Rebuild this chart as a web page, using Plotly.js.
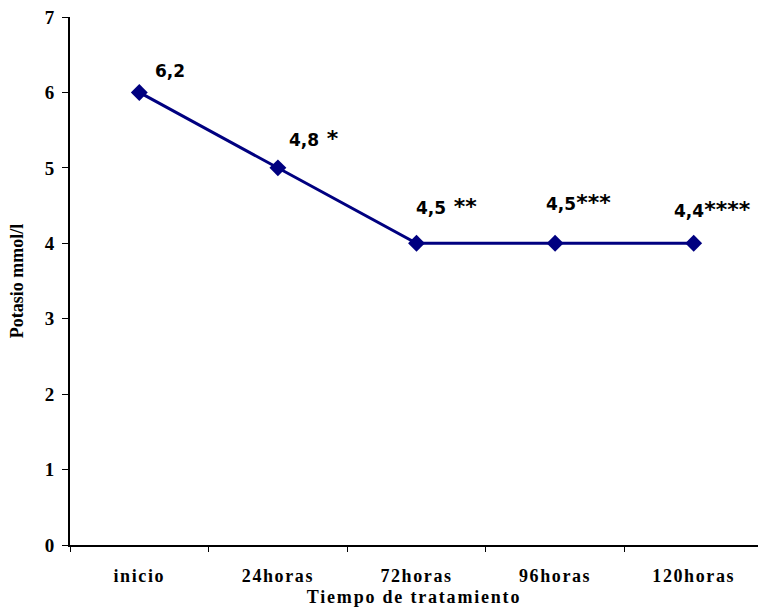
<!DOCTYPE html>
<html><head><meta charset="utf-8">
<script src="https://cdn.plot.ly/plotly-3.0.1.min.js"></script>
<style>
body{margin:0;background:#fff}
#chart .xtick text{letter-spacing:1.6px}
#chart .g-xtitle text{letter-spacing:1.8px}
</style>
</head><body>
<div id="chart" style="width:758px;height:614px"></div>
<script>
const categories = ["inicio", "24horas", "72horas", "96horas", "120horas"];
const potasio = [6, 5, 4, 4, 4];
const labelValues = ["6,2", "4,8", "4,5", "4,5", "4,4"];
const labelMarks = ["", " *", " **", "***", "****"];
const yTicks = [0, 1, 2, 3, 4, 5, 6, 7];

// label placement (style only)
const labelDx = [14, 9, -2, -11, -22];
const labelDy = [21, 29, 37, 41, 34];

const annotations = categories.map((c, i) => ({
  x: c, y: potasio[i], xref: 'x', yref: 'y',
  text: labelValues[i] + (labelMarks[i] ? '<span style="font-size:22px">' + labelMarks[i] + '</span>' : ''),
  showarrow: false,
  xanchor: 'left', yanchor: 'middle',
  xshift: labelDx[i], yshift: labelDy[i],
  font: {family: 'DejaVu Sans', size: 17, color: '#000', weight: 'bold'}
}));

const trace = {
  x: categories, y: potasio, type: 'scatter', mode: 'lines+markers',
  line: {color: '#000080', width: 3},
  marker: {symbol: 'diamond', size: 13, color: '#000080'},
  cliponaxis: false, hoverinfo: 'none'
};

const layout = {
  width: 758, height: 614,
  margin: {l: 70, r: 0, t: 17, b: 69},
  paper_bgcolor: '#fff', plot_bgcolor: '#fff',
  showlegend: false,
  font: {family: 'Liberation Serif', color: '#000'},
  xaxis: {
    type: 'category', range: [-0.5, 4.464],
    showline: true, linecolor: '#000', linewidth: 2,
    ticks: 'outside', tickson: 'boundaries', ticklen: 5, tickcolor: '#000', tickwidth: 1,
    ticklabelstandoff: 13,
    showgrid: false, zeroline: false,
    tickfont: {family: 'Liberation Serif', size: 18, weight: 'bold'},
    title: {text: 'Tiempo de tratamiento', font: {family: 'Liberation Serif', size: 18, weight: 'bold'}, standoff: 6}
  },
  yaxis: {
    range: [0, 7], tickvals: yTicks,
    showline: true, linecolor: '#000', linewidth: 2,
    ticks: 'outside', ticklen: 6, tickcolor: '#000', tickwidth: 1,
    ticklabelstandoff: 4,
    showgrid: false, zeroline: false,
    tickfont: {family: 'Liberation Serif', size: 19, weight: 'bold'},
    title: {text: 'Potasio mmol/l', font: {family: 'Liberation Serif', size: 18, weight: 'bold'}, standoff: 16}
  },
  annotations: annotations
};

Plotly.newPlot('chart', [trace], layout, {displayModeBar: false, staticPlot: true});
</script>
</body></html>
